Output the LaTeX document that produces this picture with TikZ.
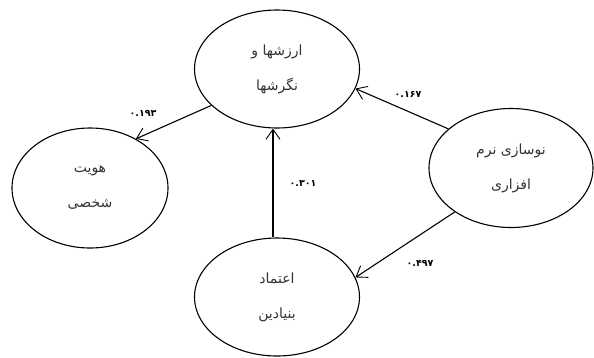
\documentclass[tikz,border=0pt]{standalone}
\usepackage{fontspec}
\usetikzlibrary{shapes.geometric,arrows.meta}
\TeXXeTstate=1
\newfontfamily\arabicfont[Script=Arabic]{DejaVu Sans}
\begin{document}
\begin{tikzpicture}[x=1pt,y=-1pt,
  concept/.style={ellipse,draw,line width=1.1pt,inner sep=0pt,align=center,
    font=\arabicfont\fontsize{14}{35}\selectfont,text=black!80},
  link/.style={draw,line width=1.1pt,-{Straight Barb[length=10pt,width=14pt,line width=0.9pt]}},
  coef/.style={font=\arabicfont\bfseries\fontsize{9.5}{11}\selectfont}]
\useasboundingbox (0,0) rectangle (594,357);
\node[concept,minimum width=165pt,minimum height=118pt] (values) at (277,69)
  {\beginR ارزشها و\endR\\\beginR نگرشها\endR};
\node[concept,minimum width=156pt,minimum height=120pt] (identity) at (90,188)
  {\beginR هویت\endR\\\beginR شخصی\endR};
\node[concept,minimum width=164pt,minimum height=119pt] (software) at (511,168)
  {\beginR نوسازی نرم\endR\\\beginR افزاری\endR};
\node[concept,minimum width=165pt,minimum height=118pt] (trust) at (277,297)
  {\beginR اعتماد\endR\\\beginR بنیادین\endR};
\draw[link] (values.209) -- (identity.47);
\draw[link] (software.148) -- (values.346);
\draw[link] (software.218) -- (trust.14);
\draw[link] ([xshift=-4pt]trust.north) -- ([xshift=-4pt]values.south);
\node[coef] (c1) at (143,113) {۰.۱۹۳};
\node[coef] (c2) at (408,94) {۰.۱۶۷};
\node[coef] (c3) at (303,183) {۰.۳۰۱};
\node[coef] (c4) at (420,263) {۰.۴۹۷};
\end{tikzpicture}
\end{document}
